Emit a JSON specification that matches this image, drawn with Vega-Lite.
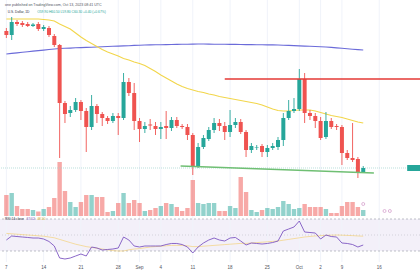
{
"$schema": "https://vega.github.io/schema/vega-lite/v6.json",
"width": 420, "height": 262,
"autosize": {"type": "none"},
"padding": {"left": 0, "top": 0, "right": 0, "bottom": 18},
"background": "#ffffff",
"config": {"view": {"stroke": null}},
"datasets": {
"k": [
{"d":"2023-08-07","o":74.0,"h":74.3,"l":73.3,"c":73.6,"v":210,"m50":75.2,"m200":71.7,"r":43.75,"rm":52},
{"d":"2023-08-08","o":73.6,"h":75.4,"l":73.1,"c":74.9,"v":230,"m50":75.2,"m200":71.76,"r":48.75,"rm":51.5},
{"d":"2023-08-09","o":74.9,"h":75.1,"l":74.5,"c":74.7,"v":100,"m50":75.2,"m200":71.81,"r":48.1,"rm":51},
{"d":"2023-08-10","o":74.8,"h":75.0,"l":74.4,"c":74.6,"v":70,"m50":75.2,"m200":71.87,"r":47.5,"rm":50.5},
{"d":"2023-08-11","o":74.7,"h":74.9,"l":74.4,"c":74.5,"v":70,"m50":75.2,"m200":71.93,"r":46.9,"rm":50},
{"d":"2023-08-12","o":74.5,"h":74.8,"l":74.4,"c":74.65,"v":60,"m50":75.2,"m200":71.99,"r":46.25,"rm":49.5},
{"d":"2023-08-13","o":74.7,"h":74.9,"l":74.0,"c":74.2,"v":45,"m50":75.2,"m200":72.04,"r":46.25,"rm":49},
{"d":"2023-08-14","o":74.2,"h":74.6,"l":74.0,"c":74.4,"v":70,"m50":75.15,"m200":72.09,"r":45,"rm":48.5},
{"d":"2023-08-15","o":74.3,"h":74.5,"l":73.4,"c":73.6,"v":90,"m50":75.1,"m200":72.15,"r":41.9,"rm":47.5},
{"d":"2023-08-16","o":73.5,"h":73.7,"l":72.4,"c":72.6,"v":180,"m50":75.0,"m200":72.2,"r":36.25,"rm":46.5},
{"d":"2023-08-17","o":72.6,"h":72.7,"l":61.3,"c":66.8,"v":540,"m50":74.7,"m200":72.25,"r":21.25,"rm":44.5},
{"d":"2023-08-18","o":66.8,"h":67.0,"l":64.8,"c":65.7,"v":250,"m50":74.45,"m200":72.27,"r":20,"rm":42.5},
{"d":"2023-08-19","o":65.8,"h":66.5,"l":65.4,"c":66.1,"v":140,"m50":74.2,"m200":72.29,"r":21.25,"rm":40.5},
{"d":"2023-08-20","o":66.1,"h":67.3,"l":65.9,"c":66.9,"v":90,"m50":73.8,"m200":72.32,"r":23.75,"rm":38.5},
{"d":"2023-08-21","o":66.9,"h":67.1,"l":65.1,"c":66.0,"v":140,"m50":73.4,"m200":72.34,"r":26.25,"rm":37},
{"d":"2023-08-22","o":66.0,"h":66.3,"l":61.9,"c":64.4,"v":210,"m50":73.05,"m200":72.36,"r":23.75,"rm":35.5},
{"d":"2023-08-23","o":64.4,"h":67.6,"l":64.1,"c":66.5,"v":210,"m50":72.75,"m200":72.38,"r":35,"rm":34.5},
{"d":"2023-08-24","o":66.5,"h":66.7,"l":64.8,"c":65.7,"v":190,"m50":72.45,"m200":72.4,"r":33.75,"rm":33.5},
{"d":"2023-08-25","o":65.7,"h":65.9,"l":64.5,"c":65.3,"v":190,"m50":72.15,"m200":72.42,"r":31.25,"rm":32.5},
{"d":"2023-08-26","o":65.3,"h":65.5,"l":64.7,"c":65.0,"v":40,"m50":71.9,"m200":72.45,"r":31.9,"rm":31.5},
{"d":"2023-08-27","o":65.0,"h":65.8,"l":64.8,"c":65.5,"v":50,"m50":71.7,"m200":72.47,"r":32.5,"rm":30.5},
{"d":"2023-08-28","o":65.5,"h":65.8,"l":63.6,"c":65.3,"v":130,"m50":71.5,"m200":72.49,"r":33.75,"rm":30},
{"d":"2023-08-29","o":65.3,"h":69.8,"l":65.1,"c":68.9,"v":230,"m50":71.25,"m200":72.51,"r":47.5,"rm":30},
{"d":"2023-08-30","o":68.9,"h":69.3,"l":67.5,"c":67.8,"v":130,"m50":71.1,"m200":72.53,"r":43.75,"rm":31.5},
{"d":"2023-08-31","o":67.8,"h":68.8,"l":64.1,"c":65.0,"v":160,"m50":70.9,"m200":72.56,"r":36.25,"rm":32.5},
{"d":"2023-09-01","o":65.0,"h":65.3,"l":62.9,"c":64.2,"v":130,"m50":70.75,"m200":72.58,"r":35,"rm":33},
{"d":"2023-09-02","o":64.2,"h":64.9,"l":63.8,"c":64.5,"v":50,"m50":70.55,"m200":72.6,"r":36.25,"rm":34},
{"d":"2023-09-03","o":64.65,"h":65.2,"l":64.1,"c":64.55,"v":60,"m50":70.25,"m200":72.61,"r":36.25,"rm":35},
{"d":"2023-09-04","o":64.5,"h":64.9,"l":63.6,"c":64.2,"v":80,"m50":69.95,"m200":72.62,"r":36.25,"rm":35.5},
{"d":"2023-09-05","o":64.2,"h":64.9,"l":63.2,"c":64.4,"v":100,"m50":69.6,"m200":72.63,"r":36.25,"rm":36},
{"d":"2023-09-06","o":64.5,"h":66.0,"l":63.2,"c":64.3,"v":130,"m50":69.3,"m200":72.64,"r":38.1,"rm":36.5},
{"d":"2023-09-07","o":64.3,"h":65.4,"l":64.0,"c":65.1,"v":120,"m50":69.0,"m200":72.65,"r":39.4,"rm":37},
{"d":"2023-09-08","o":65.1,"h":65.4,"l":64.3,"c":64.5,"v":90,"m50":68.7,"m200":72.66,"r":39.4,"rm":37},
{"d":"2023-09-09","o":64.5,"h":64.7,"l":64.2,"c":64.4,"v":50,"m50":68.45,"m200":72.67,"r":38.1,"rm":37},
{"d":"2023-09-10","o":64.4,"h":64.7,"l":63.1,"c":63.6,"v":80,"m50":68.25,"m200":72.68,"r":35,"rm":36.5},
{"d":"2023-09-11","o":63.6,"h":63.8,"l":59.6,"c":60.4,"v":360,"m50":68.1,"m200":72.69,"r":27.5,"rm":35.5},
{"d":"2023-09-12","o":60.4,"h":62.8,"l":60.3,"c":62.4,"v":130,"m50":67.95,"m200":72.7,"r":35,"rm":35.5},
{"d":"2023-09-13","o":62.4,"h":63.6,"l":62.2,"c":63.3,"v":120,"m50":67.85,"m200":72.7,"r":40,"rm":36},
{"d":"2023-09-14","o":63.2,"h":64.4,"l":63.0,"c":64.1,"v":130,"m50":67.7,"m200":72.69,"r":43.75,"rm":36.5},
{"d":"2023-09-15","o":64.1,"h":65.3,"l":63.8,"c":64.8,"v":130,"m50":67.6,"m200":72.68,"r":46.25,"rm":37},
{"d":"2023-09-16","o":64.8,"h":65.2,"l":64.0,"c":64.5,"v":50,"m50":67.45,"m200":72.68,"r":43.75,"rm":37.5},
{"d":"2023-09-17","o":64.5,"h":64.9,"l":63.1,"c":63.9,"v":50,"m50":67.35,"m200":72.67,"r":42.5,"rm":38},
{"d":"2023-09-18","o":63.9,"h":66.1,"l":63.4,"c":64.6,"v":100,"m50":67.25,"m200":72.66,"r":46.25,"rm":38.5},
{"d":"2023-09-19","o":64.6,"h":65.3,"l":64.3,"c":64.9,"v":80,"m50":67.15,"m200":72.66,"r":46.9,"rm":39},
{"d":"2023-09-20","o":64.9,"h":65.2,"l":63.7,"c":63.9,"v":390,"m50":67.05,"m200":72.65,"r":42.5,"rm":39.5},
{"d":"2023-09-21","o":63.9,"h":64.1,"l":61.4,"c":62.1,"v":240,"m50":66.95,"m200":72.64,"r":37.5,"rm":39.5},
{"d":"2023-09-22","o":62.1,"h":62.8,"l":61.8,"c":62.5,"v":60,"m50":66.85,"m200":72.64,"r":40,"rm":40},
{"d":"2023-09-23","o":62.35,"h":62.6,"l":62.1,"c":62.4,"v":40,"m50":66.75,"m200":72.63,"r":39.4,"rm":40.5},
{"d":"2023-09-24","o":62.5,"h":62.7,"l":61.4,"c":61.9,"v":60,"m50":66.6,"m200":72.62,"r":38.75,"rm":41},
{"d":"2023-09-25","o":61.9,"h":62.6,"l":61.4,"c":62.3,"v":80,"m50":66.4,"m200":72.61,"r":39.4,"rm":41.5},
{"d":"2023-09-26","o":62.3,"h":62.8,"l":62.1,"c":62.5,"v":70,"m50":66.2,"m200":72.61,"r":40.6,"rm":42},
{"d":"2023-09-27","o":62.4,"h":63.4,"l":62.1,"c":63.1,"v":90,"m50":66.05,"m200":72.6,"r":42.5,"rm":42.5},
{"d":"2023-09-28","o":63.1,"h":65.8,"l":62.5,"c":65.3,"v":150,"m50":66.0,"m200":72.58,"r":55,"rm":43.5},
{"d":"2023-09-29","o":65.3,"h":67.1,"l":65.1,"c":66.0,"v":120,"m50":66.0,"m200":72.56,"r":57.5,"rm":44.5},
{"d":"2023-09-30","o":66.0,"h":67.3,"l":65.8,"c":66.2,"v":70,"m50":66.05,"m200":72.54,"r":60,"rm":45.5},
{"d":"2023-10-01","o":66.2,"h":70.2,"l":66.0,"c":69.2,"v":80,"m50":66.1,"m200":72.51,"r":67.5,"rm":46.5},
{"d":"2023-10-02","o":69.2,"h":69.8,"l":64.8,"c":65.8,"v":120,"m50":66.1,"m200":72.49,"r":53.75,"rm":47.5},
{"d":"2023-10-03","o":65.8,"h":66.1,"l":65.1,"c":65.5,"v":90,"m50":66.1,"m200":72.47,"r":53.1,"rm":48.2},
{"d":"2023-10-04","o":65.5,"h":65.8,"l":64.3,"c":65.0,"v":90,"m50":66.0,"m200":72.45,"r":52.5,"rm":48.8},
{"d":"2023-10-05","o":65.0,"h":65.4,"l":63.1,"c":63.3,"v":90,"m50":65.85,"m200":72.43,"r":45,"rm":49.2},
{"d":"2023-10-06","o":63.4,"h":65.9,"l":63.2,"c":65.0,"v":70,"m50":65.7,"m200":72.4,"r":50,"rm":49.6},
{"d":"2023-10-07","o":65.0,"h":65.3,"l":64.2,"c":64.4,"v":30,"m50":65.55,"m200":72.36,"r":48.1,"rm":49.8},
{"d":"2023-10-08","o":64.5,"h":64.7,"l":64.1,"c":64.4,"v":30,"m50":65.45,"m200":72.31,"r":47.5,"rm":50},
{"d":"2023-10-09","o":64.4,"h":64.6,"l":60.6,"c":61.8,"v":100,"m50":65.35,"m200":72.27,"r":40,"rm":49.8},
{"d":"2023-10-10","o":61.8,"h":62.1,"l":61.1,"c":61.3,"v":140,"m50":65.2,"m200":72.22,"r":39.4,"rm":49.5},
{"d":"2023-10-11","o":61.3,"h":64.8,"l":60.9,"c":61.1,"v":140,"m50":65.05,"m200":72.18,"r":38.1,"rm":49.2},
{"d":"2023-10-12","o":61.2,"h":61.4,"l":59.3,"c":59.9,"v":90,"m50":64.9,"m200":72.14,"r":35,"rm":48.8},
{"d":"2023-10-13","o":59.9,"h":60.5,"l":59.8,"c":60.3,"v":60,"m50":64.8,"m200":72.1,"r":37.5,"rm":48.5}
],
"support": [{"d":"2023-09-08T17:00:00Z","p":60.5},{"d":"2023-10-15T00:00:00Z","p":59.8}],
"resist": [{"d1":"2023-09-17T00:00:00Z","d2":"2023-10-25T00:00:00Z","p":69.2}],
"events": [{"d":"2023-10-13","v":120},{"d":"2023-10-17","v":50},{"d":"2023-10-18","v":50}],
"band": [{"d1":"2023-08-01","d2":"2023-10-25","lo":30,"hi":70}],
"ticks": [
{"d":"2023-08-07","t":"7"},{"d":"2023-08-14","t":"14"},{"d":"2023-08-21","t":"21"},{"d":"2023-08-28","t":"28"},
{"d":"2023-09-01","t":"Sep"},{"d":"2023-09-05","t":"4"},{"d":"2023-09-11","t":"11"},{"d":"2023-09-18","t":"18"},
{"d":"2023-09-25","t":"25"},{"d":"2023-10-01","t":"Oct"},{"d":"2023-10-05","t":"2"},{"d":"2023-10-09","t":"9"},{"d":"2023-10-16","t":"16"}]
},
"resolve": {"scale": {"y": "independent"}},
"layer": [
{"data": {"name": "band"}, "mark": {"type": "rect", "color": "#7e57c2", "opacity": 0.09, "clip": true},
 "encoding": {"x": {"field": "d1", "type": "temporal", "title": null, "scale": {"type": "utc", "domain": [1691344195200, 1697995008000], "nice": false}, "axis": null},
  "x2": {"field": "d2"},
  "y": {"field": "lo", "type": "quantitative", "scale": {"domain": [16.25, 343.75], "nice": false, "zero": false}, "axis": null},
  "y2": {"field": "hi"}}},
{"data": {"name": "ticks"}, "mark": {"type": "rule", "color": "#f0f3fa", "strokeWidth": 1},
 "encoding": {"x": {"field": "d", "type": "temporal", "title": null, "scale": {"type": "utc", "domain": [1691344195200, 1697995008000], "nice": false}, "axis": null}}},
{"data": {"values": [{"lv": 70}, {"lv": 30}]}, "mark": {"type": "rule", "color": "#9598a1", "strokeWidth": 0.6, "strokeDash": [2, 2]},
 "encoding": {"y": {"field": "lv", "type": "quantitative", "scale": {"domain": [16.25, 343.75], "nice": false, "zero": false}, "axis": null}}},
{"data": {"values": [{"lv": 50}]}, "mark": {"type": "rule", "color": "#b2b5be", "strokeWidth": 0.5, "strokeDash": [1, 2]},
 "encoding": {"y": {"field": "lv", "type": "quantitative", "scale": {"domain": [16.25, 343.75], "nice": false, "zero": false}, "axis": null}}},
{"data": {"name": "k"}, "mark": {"type": "bar", "width": 4.4, "opacity": 0.5},
 "encoding": {"x": {"field": "d", "type": "temporal", "title": null, "scale": {"type": "utc", "domain": [1691344195200, 1697995008000], "nice": false}, "axis": null},
  "y": {"field": "v", "type": "quantitative", "scale": {"domain": [-460, 2160], "nice": false, "zero": false}, "axis": null},
  "y2": {"datum": 0},
  "color": {"condition": {"test": "datum.c >= datum.o", "value": "#26a69a"}, "value": "#ef5350"}}},
{"data": {"name": "events"}, "mark": {"type": "point", "shape": "circle", "size": 9, "stroke": "#c77dbb", "strokeWidth": 0.8, "filled": false},
 "encoding": {"x": {"field": "d", "type": "temporal", "title": null, "scale": {"type": "utc", "domain": [1691344195200, 1697995008000], "nice": false}, "axis": null},
  "y": {"field": "v", "type": "quantitative", "scale": {"domain": [-460, 2160], "nice": false, "zero": false}, "axis": null}}},
{"data": {"name": "k"}, "mark": {"type": "line", "color": "#6b6bd9", "strokeWidth": 1.1},
 "encoding": {"x": {"field": "d", "type": "temporal", "title": null, "scale": {"type": "utc", "domain": [1691344195200, 1697995008000], "nice": false}, "axis": null},
  "y": {"field": "m200", "type": "quantitative", "scale": {"domain": [50.9, 77.1], "nice": false, "zero": false}, "axis": null}}},
{"data": {"name": "k"}, "mark": {"type": "line", "color": "#f2d64b", "strokeWidth": 1.1},
 "encoding": {"x": {"field": "d", "type": "temporal", "title": null, "scale": {"type": "utc", "domain": [1691344195200, 1697995008000], "nice": false}, "axis": null},
  "y": {"field": "m50", "type": "quantitative", "scale": {"domain": [50.9, 77.1], "nice": false, "zero": false}, "axis": null}}},
{"data": {"values": [{"p": 60.3}]}, "mark": {"type": "rule", "color": "#9fd3cd", "strokeWidth": 0.7, "strokeDash": [1, 1]},
 "encoding": {"y": {"field": "p", "type": "quantitative", "scale": {"domain": [50.9, 77.1], "nice": false, "zero": false}, "axis": null}}},
{"data": {"name": "k"}, "mark": {"type": "rule", "strokeWidth": 0.9},
 "encoding": {"x": {"field": "d", "type": "temporal", "title": null, "scale": {"type": "utc", "domain": [1691344195200, 1697995008000], "nice": false}, "axis": null},
  "y": {"field": "l", "type": "quantitative", "scale": {"domain": [50.9, 77.1], "nice": false, "zero": false}, "axis": null},
  "y2": {"field": "h"},
  "color": {"condition": {"test": "datum.c >= datum.o", "value": "#26a69a"}, "value": "#ef5350"}}},
{"data": {"name": "k"}, "mark": {"type": "bar", "width": 4},
 "encoding": {"x": {"field": "d", "type": "temporal", "title": null, "scale": {"type": "utc", "domain": [1691344195200, 1697995008000], "nice": false}, "axis": null},
  "y": {"field": "o", "type": "quantitative", "scale": {"domain": [50.9, 77.1], "nice": false, "zero": false}, "axis": null},
  "y2": {"field": "c"},
  "color": {"condition": {"test": "datum.c >= datum.o", "value": "#26a69a"}, "value": "#ef5350"}}},
{"data": {"name": "resist"}, "mark": {"type": "rule", "color": "#e53935", "strokeWidth": 1.4, "clip": true},
 "encoding": {"x": {"field": "d1", "type": "temporal", "title": null, "scale": {"type": "utc", "domain": [1691344195200, 1697995008000], "nice": false}, "axis": null},
  "x2": {"field": "d2"},
  "y": {"field": "p", "type": "quantitative", "scale": {"domain": [50.9, 77.1], "nice": false, "zero": false}, "axis": null}}},
{"data": {"name": "support"}, "mark": {"type": "line", "color": "#6fbf73", "strokeWidth": 1.4},
 "encoding": {"x": {"field": "d", "type": "temporal", "title": null, "scale": {"type": "utc", "domain": [1691344195200, 1697995008000], "nice": false}, "axis": null},
  "y": {"field": "p", "type": "quantitative", "scale": {"domain": [50.9, 77.1], "nice": false, "zero": false}, "axis": null}}},
{"data": {"values": [{"d1": "2023-10-21T06:00:00Z", "d2": "2023-10-25T00:00:00Z", "lo": 60.0, "hi": 60.6}]}, "mark": {"type": "rect", "color": "#26a69a", "clip": true},
 "encoding": {"x": {"field": "d1", "type": "temporal", "title": null, "scale": {"type": "utc", "domain": [1691344195200, 1697995008000], "nice": false}, "axis": null},
  "x2": {"field": "d2"},
  "y": {"field": "lo", "type": "quantitative", "scale": {"domain": [50.9, 77.1], "nice": false, "zero": false}, "axis": null},
  "y2": {"field": "hi"}}},
{"data": {"name": "k"}, "mark": {"type": "line", "color": "#f5c542", "strokeWidth": 0.8, "opacity": 0.6},
 "encoding": {"x": {"field": "d", "type": "temporal", "title": null, "scale": {"type": "utc", "domain": [1691344195200, 1697995008000], "nice": false}, "axis": null},
  "y": {"field": "rm", "type": "quantitative", "scale": {"domain": [16.25, 343.75], "nice": false, "zero": false}, "axis": null}}},
{"data": {"name": "k"}, "mark": {"type": "line", "color": "#7e57c2", "strokeWidth": 0.9},
 "encoding": {"x": {"field": "d", "type": "temporal", "title": null, "scale": {"type": "utc", "domain": [1691344195200, 1697995008000], "nice": false}, "axis": null},
  "y": {"field": "r", "type": "quantitative", "scale": {"domain": [16.25, 343.75], "nice": false, "zero": false}, "axis": null}}},
{"data": {"name": "ticks"}, "mark": {"type": "text", "align": "center", "baseline": "middle", "fontSize": 4.5, "font": "Liberation Sans", "color": "#50535e"},
 "encoding": {"x": {"field": "d", "type": "temporal", "title": null, "scale": {"type": "utc", "domain": [1691344195200, 1697995008000], "nice": false}, "axis": null},
  "y": {"datum": 8.75, "type": "quantitative", "scale": {"domain": [16.25, 343.75], "nice": false, "zero": false}, "axis": null},
  "text": {"field": "t"}}},
{"data": {"values": [{"t": "one published on TradingView.com, Oct 13, 2023 08:41 UTC", "d": "2023-08-06T18:00:00Z", "p": 76.6}]}, "mark": {"type": "text", "align": "left", "baseline": "middle", "fontSize": 3.6, "font": "Liberation Sans", "color": "#50535e"},
 "encoding": {"x": {"field": "d", "type": "temporal", "title": null, "scale": {"type": "utc", "domain": [1691344195200, 1697995008000], "nice": false}, "axis": null},
  "y": {"field": "p", "type": "quantitative", "scale": {"domain": [50.9, 77.1], "nice": false, "zero": false}, "axis": null},
  "text": {"field": "t"}}},
{"data": {"values": [{"t": "U.S. Dollar, 1D", "d": "2023-08-07T06:00:00Z", "p": 75.9}]}, "mark": {"type": "text", "align": "left", "baseline": "middle", "fontSize": 3.3, "font": "Liberation Sans", "color": "#2a2e39"},
 "encoding": {"x": {"field": "d", "type": "temporal", "title": null, "scale": {"type": "utc", "domain": [1691344195200, 1697995008000], "nice": false}, "axis": null},
  "y": {"field": "p", "type": "quantitative", "scale": {"domain": [50.9, 77.1], "nice": false, "zero": false}, "axis": null},
  "text": {"field": "t"}}},
{"data": {"values": [{"t": "O59.90 H60.50 L59.80 C60.30 +0.40 (+0.67%)", "d": "2023-08-12T19:00:00Z", "p": 75.9}]}, "mark": {"type": "text", "align": "left", "baseline": "middle", "fontSize": 3.3, "font": "Liberation Sans", "color": "#26a69a"},
 "encoding": {"x": {"field": "d", "type": "temporal", "title": null, "scale": {"type": "utc", "domain": [1691344195200, 1697995008000], "nice": false}, "axis": null},
  "y": {"field": "p", "type": "quantitative", "scale": {"domain": [50.9, 77.1], "nice": false, "zero": false}, "axis": null},
  "text": {"field": "t"}}},
{"data": {"values": [{"t": "RSI 14 close", "d": "2023-08-06T18:00:00Z", "r": 69.4}]}, "mark": {"type": "text", "align": "left", "baseline": "middle", "fontSize": 3.3, "font": "Liberation Sans", "color": "#2a2e39"},
 "encoding": {"x": {"field": "d", "type": "temporal", "title": null, "scale": {"type": "utc", "domain": [1691344195200, 1697995008000], "nice": false}, "axis": null},
  "y": {"field": "r", "type": "quantitative", "scale": {"domain": [16.25, 343.75], "nice": false, "zero": false}, "axis": null},
  "text": {"field": "t"}}},
{"data": {"values": [{"t": "37.52", "d": "2023-08-10T19:00:00Z", "r": 69.4}]}, "mark": {"type": "text", "align": "left", "baseline": "middle", "fontSize": 3.3, "font": "Liberation Sans", "color": "#7e57c2"},
 "encoding": {"x": {"field": "d", "type": "temporal", "title": null, "scale": {"type": "utc", "domain": [1691344195200, 1697995008000], "nice": false}, "axis": null},
  "y": {"field": "r", "type": "quantitative", "scale": {"domain": [16.25, 343.75], "nice": false, "zero": false}, "axis": null},
  "text": {"field": "t"}}},
{"data": {"values": [{"t": "48.50", "d": "2023-08-12T19:00:00Z", "r": 69.4}]}, "mark": {"type": "text", "align": "left", "baseline": "middle", "fontSize": 3.3, "font": "Liberation Sans", "color": "#e0b82e"},
 "encoding": {"x": {"field": "d", "type": "temporal", "title": null, "scale": {"type": "utc", "domain": [1691344195200, 1697995008000], "nice": false}, "axis": null},
  "y": {"field": "r", "type": "quantitative", "scale": {"domain": [16.25, 343.75], "nice": false, "zero": false}, "axis": null},
  "text": {"field": "t"}}}
]
}
